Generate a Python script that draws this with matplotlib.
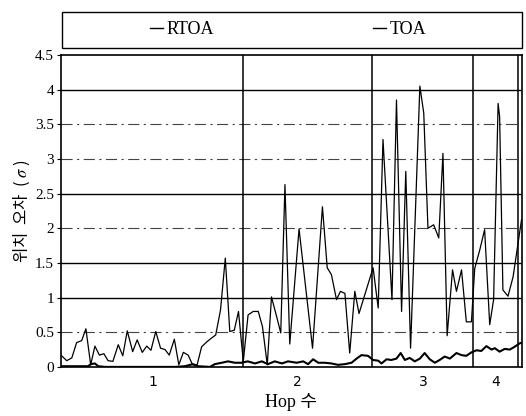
import matplotlib
matplotlib.use("Agg")
import matplotlib.pyplot as plt
from matplotlib.lines import Line2D
from matplotlib.patches import Rectangle

# sample positions along the route and position error (sigma)
toa_x = [0, 1.9, 3.6, 5.2, 6.9, 8.3, 9.9, 11.3, 12.8, 14.3, 15.7, 17.3, 19.1, 20.6,
         22.1, 23.9, 25.4, 27.1, 28.6, 30.0, 31.6, 33.2, 34.7, 36.1, 37.8, 39.3,
         40.8, 42.4, 43.9, 45.4, 46.9, 48.6, 50.0, 51.6, 53.2, 54.8, 56.3, 57.8,
         59.2, 60.8, 62.4, 64.1, 65.8, 67.2, 68.8, 70.2, 71.9, 73.3, 74.7, 75.0,
         76.3, 79.4, 83.9, 87.2, 88.8, 90.2, 91.9, 93.2, 94.7, 96.3, 98.0, 99.4,
         104.1, 105.8, 107.4, 110.4, 111.9, 113.6, 115.0, 116.6, 119.7, 121.0,
         122.4, 124.3, 126.0, 127.4, 128.8, 130.6, 131.9, 133.6, 135.2, 136.9,
         138.0, 139.7, 141.3, 143.0, 144.3, 145.8, 146.3, 147.4, 149.1, 150.8, 153.6]
toa_y = [0.17, 0.09, 0.13, 0.35, 0.38, 0.55, 0.03, 0.30, 0.17, 0.19, 0.09, 0.08, 0.32, 0.16,
         0.52, 0.22, 0.39, 0.21, 0.30, 0.24, 0.51, 0.27, 0.25, 0.17, 0.40, 0.03,
         0.21, 0.17, 0.03, 0.03, 0.29, 0.36, 0.41, 0.46, 0.82, 1.57, 0.51, 0.53,
         0.80, 0.08, 0.75, 0.80, 0.80, 0.58, 0.03, 1.01, 0.73, 0.49, 2.63, 2.20,
         0.33, 1.99, 0.27, 2.31, 1.43, 1.33, 0.97, 1.09, 1.06, 0.20, 1.09, 0.77,
         1.43, 0.85, 3.28, 0.97, 3.85, 0.80, 2.82, 0.27, 4.05, 3.66,
         2.00, 2.05, 1.86, 3.08, 0.45, 1.40, 1.09, 1.40, 0.65, 0.65,
         1.42, 1.69, 1.98, 0.61, 0.97, 3.80, 3.61, 1.11, 1.02, 1.30, 2.12]

rtoa_x = [0, 9.0, 10.0, 11.3, 12.4, 14.7, 38.0, 41.3, 44.0, 45.7, 49.7, 51.3, 53.6,
          55.7, 58.0, 60.2, 62.3, 64.7, 67.0, 69.0, 71.3, 73.7, 75.7, 78.6, 80.8,
          82.4, 84.1, 85.8, 88.0, 90.2, 92.4, 94.7, 96.9, 98.6, 100.2, 102.4, 104.1,
          105.8, 106.9, 108.6, 110.2, 111.9, 113.3, 114.7, 116.3, 118.0, 119.7,
          121.3, 123.0, 124.7, 126.3, 128.0, 129.7, 131.9, 133.6, 135.2, 136.9,
          138.6, 140.2, 141.9, 143.6, 144.7, 146.3, 148.0, 149.7, 151.3, 153.0, 153.7]
rtoa_y = [0.01, 0.01, 0.04, 0.05, 0.01, 0.0, 0.0, 0.01, 0.04, 0.01, 0.0, 0.04, 0.06,
          0.08, 0.06, 0.06, 0.08, 0.05, 0.08, 0.04, 0.08, 0.05, 0.08, 0.06, 0.08,
          0.04, 0.11, 0.06, 0.06, 0.05, 0.03, 0.04, 0.06, 0.12, 0.17, 0.16, 0.10,
          0.09, 0.05, 0.11, 0.10, 0.12, 0.20, 0.10, 0.13, 0.08, 0.12,
          0.20, 0.11, 0.06, 0.10, 0.15, 0.12, 0.20, 0.17, 0.16, 0.21,
          0.24, 0.23, 0.30, 0.25, 0.27, 0.22, 0.26, 0.25, 0.29, 0.34, 0.35]

# hop count groups
hop_bounds = [60.7, 103.7, 137.3, 152.3]
hop_centers = [30.7, 79.0, 121.0, 145.0]
hop_labels = ["1", "2", "3", "4"]

y_ticks = [0, 0.5, 1, 1.5, 2, 2.5, 3, 3.5, 4, 4.5]
y_tick_labels = ["0", "0.5", "1", "1.5", "2", "2.5", "3", "3.5", "4", "4.5"]
solid_grid = [1, 1.5, 2.5, 4]
dashdot_grid = [0.5, 2, 3, 3.5]


def main():
    plt.rcParams["mathtext.fontset"] = "stix"
    fig = plt.figure(figsize=(5.26, 4.16), dpi=100)
    ax = fig.add_axes([0.116, 0.118, 0.876, 0.750])

    for g in solid_grid:
        ax.axhline(g, color="black", lw=1.0, zorder=1)
    for g in dashdot_grid:
        ax.axhline(g, color="#444444", lw=0.8, ls=(0, (10, 4, 2, 4)), zorder=1)
    for b in hop_bounds:
        ax.axvline(b, color="black", lw=1.1, zorder=2)

    ax.plot(toa_x, toa_y, color="black", lw=0.9, zorder=3)
    ax.plot(rtoa_x, rtoa_y, color="black", lw=1.5, zorder=3)

    ax.set_xlim(0, 153.7)
    ax.set_ylim(0, 4.5)
    ax.set_xticks(hop_centers)
    ax.set_xticklabels(hop_labels, family="DejaVu Sans", fontsize=10)
    ax.tick_params(axis="x", length=0, pad=6)
    ax.set_yticks(y_ticks)
    ax.set_yticklabels(y_tick_labels, family="Liberation Serif", fontsize=11)
    ax.tick_params(axis="y", length=3, width=0.8, pad=2)
    for s in ax.spines.values():
        s.set_linewidth(1.2)

    ax.set_ylabel("위치  오차  ( $\\sigma$ )", family=["Noto Sans CJK KR", "DejaVu Sans"],
                  fontsize=12, labelpad=2)
    ax.set_xlabel("Hop 수", family=["Liberation Serif", "Noto Sans CJK KR"],
                  fontsize=13, labelpad=3)

    # legend box above the plot
    fig.patches.append(Rectangle((0.118, 0.885), 0.874, 0.086, transform=fig.transFigure,
                                 fill=False, edgecolor="black", lw=1.0))
    handles = [Line2D([], [], color="black", lw=1.0), Line2D([], [], color="black", lw=1.0)]
    fig.legend(handles, ["RTOA", "TOA"], loc="center", bbox_to_anchor=(0.548, 0.928),
               ncol=2, frameon=False, handlelength=0.7, handletextpad=0.2,
               columnspacing=8.8, prop={"family": "Liberation Serif", "size": 13})

    fig.savefig("out.png", dpi=100)


if __name__ == "__main__":
    main()
